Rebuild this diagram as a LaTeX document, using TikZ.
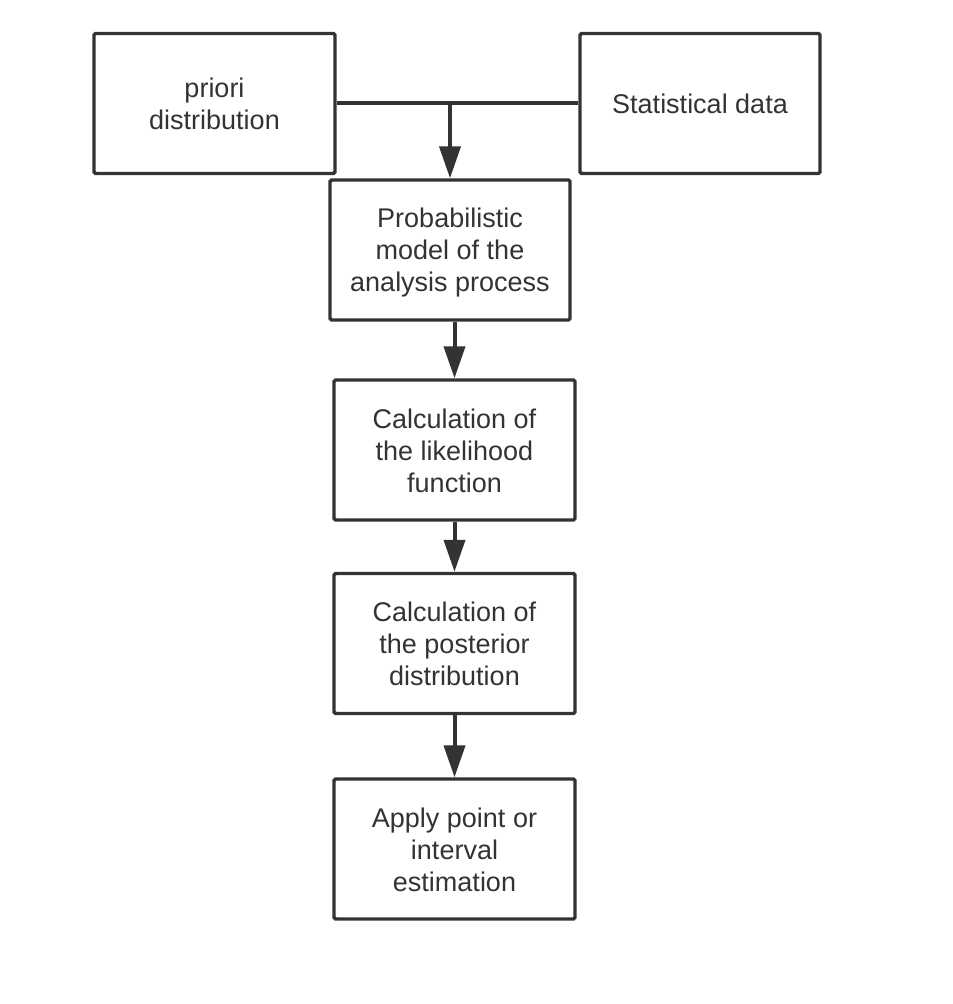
\documentclass[tikz,border=0pt]{standalone}
\usepackage{fontspec}
\setmainfont{Liberation Sans}
\usetikzlibrary{arrows.meta}
\definecolor{ink}{HTML}{333333}
\newcommand\boxtext[1]{\rule{0pt}{13pt}#1\rule[-3pt]{0pt}{3pt}}
\begin{document}
\begin{tikzpicture}[x=0.5pt,y=-0.5pt,
  box/.style={draw=ink,line width=1.7pt,rounded corners=0.8pt,minimum width=120pt,minimum height=70pt,
    align=center,inner sep=0pt,text=ink,font=\fontsize{13.5pt}{16pt}\selectfont},
  conn/.style={draw=ink,line width=2pt},
  arr/.style={conn,-{Triangle[length=16pt,width=10.5pt]}}]
\useasboundingbox (0,0) rectangle (952,1004);
\node[box,minimum width=120.5pt] (pri) at (214.5,103.5) {\boxtext{priori\\distribution}};
\node[box] (stat) at (700,103.5) {\boxtext{Statistical data}};
\node[box] (prob) at (450,250) {\boxtext{Probabilistic\\model of the\\analysis process}};
\node[box,minimum width=120.5pt] (lik) at (454.5,450) {\boxtext{Calculation of\\the likelihood\\function}};
\node[box,minimum width=120.5pt] (post) at (454.5,643.5) {\boxtext{Calculation of\\the posterior\\distribution}};
\node[box,minimum width=120.5pt] (app) at (454.5,849) {\boxtext{Apply point or\\interval\\estimation}};
\draw[conn] (pri.east) -- (stat.west);
\draw[arr] (prob.north |- pri.east) -- (prob.north);
\draw[arr] (lik.north |- prob.south) -- (lik.north);
\draw[arr] (lik.south) -- (post.north);
\draw[arr] (post.south) -- (app.north);
\end{tikzpicture}
\end{document}
